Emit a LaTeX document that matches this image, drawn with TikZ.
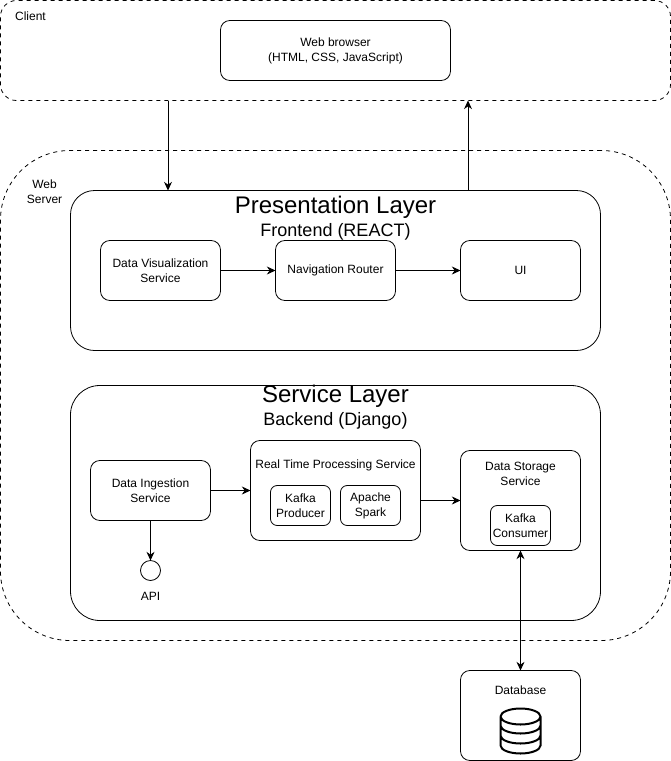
\documentclass[tikz,border=0pt]{standalone}
\usepackage{fontspec}
\setmainfont{Liberation Sans}
\usetikzlibrary{positioning,arrows.meta,calc}

\begin{document}
\begin{tikzpicture}[x=0.75pt, y=-0.75pt, >={Stealth[length=6.5pt,width=6pt]},
        every node/.style={outer sep=0pt, inner sep=0pt, align=center, font=\fontsize{9}{11.25}\selectfont},
        group/.style={draw, dashed, line width=0.6pt},
        layer/.style={draw, line width=0.6pt, minimum width=397.5pt},
        service/.style={draw, line width=0.6pt, rounded corners=7pt, minimum width=90pt, minimum height=45pt},
        small/.style={draw, line width=0.6pt, rounded corners=5pt, minimum width=45pt, minimum height=30pt},
        title/.style={font=\fontsize{18}{20}\selectfont},
        subtitle/.style={font=\fontsize{13.5}{16}\selectfont},
        link/.style={->, line width=0.6pt}]
        \useasboundingbox (-0.5,-0.5) rectangle (670.5,760.5);

        % client
        \node[group, rounded corners=12pt, minimum width=502.5pt, minimum height=75pt] (client) at (335,50) {};
        \node (clientlabel) at (30,16) {Client};
        \node[service, minimum width=172.5pt] (browser) at (335,50) {Web browser\\(HTML, CSS, JavaScript)};

        % web server
        \node[group, rounded corners=52pt, minimum width=502.5pt, minimum height=367.5pt] (server) at (335,395) {};
        \node (serverlabel) at (44,191) {Web\\Server};

        % presentation layer
        \node[layer, rounded corners=18pt, minimum height=120pt] (pres) at (335,270) {};
        \node[title] (prestitle) at (335,206.5) {Presentation Layer};
        \node[subtitle] (pressub) at (335,231) {Frontend (REACT)};
        \node[service] (viz) at (160,270) {Data Visualization\\Service};
        \node[service, right=41.25pt of viz] (router) {Navigation Router};
        \node[service, right=48.75pt of router] (ui) {UI};

        % service layer
        \node[layer, rounded corners=22pt, minimum height=176.25pt] (svc) at (335,502.5) {};
        \node[title] (svctitle) at (335,396) {Service Layer};
        \node[subtitle] (svcsub) at (335,420.5) {Backend (Django)};
        \node[service] (ingest) at (150,490) {Data Ingestion\\Service};
        \node[service, minimum width=127.5pt, minimum height=75pt, right=30pt of ingest] (rt) {};
        \node[below=14.5pt of rt.north] (rtlabel) {Real Time Processing Service};
        \node[small] (producer) at (300,505) {Kafka\\Producer};
        \node[small, right=7.5pt of producer] (spark) {Apache\\Spark};
        \node[service, minimum height=75pt] (storage) at (520,500) {};
        \node[below=8.5pt of storage.north] (storagelabel) {Data Storage\\Service};
        \node[small] (consumer) at (520,525) {Kafka\\Consumer};
        \node[draw, circle, line width=0.6pt, minimum size=15pt] (api) at (150,570) {};
        \node[below=8.5pt of api] (apilabel) {API};

        % database
        \node[service, minimum height=67.5pt] (db) at (520,715) {};
        \node[below=11.5pt of db.north] (dblabel) {Database};
        \draw[line width=1.5pt] (500,716) -- (500,745) arc[start angle=180, end angle=0, x radius=20, y radius=8] -- (540,716)
            (500,716) arc[start angle=180, end angle=540, x radius=20, y radius=8]
            (500,725) arc[start angle=180, end angle=0, x radius=20, y radius=8]
            (500,735) arc[start angle=180, end angle=0, x radius=20, y radius=8];

        \coordinate (down) at ($(client.south west)!0.25!(client.south east)$);
        \coordinate (up) at ($(pres.north west)!0.75!(pres.north east)$);
        \draw[link] (down) -- (down |- pres.north);
        \draw[link] (up) -- (up |- client.south);
        \draw[link] (viz) -- (router);
        \draw[link] (router) -- (ui);
        \draw[link] (ingest) -- (rt);
        \draw[link] (storage.west -| rt.east) -- (storage.west);
        \draw[link] (ingest) -- (api);
        \draw[link, <->] (storage.south) -- (db.north);
    \end{tikzpicture}
\end{document}
